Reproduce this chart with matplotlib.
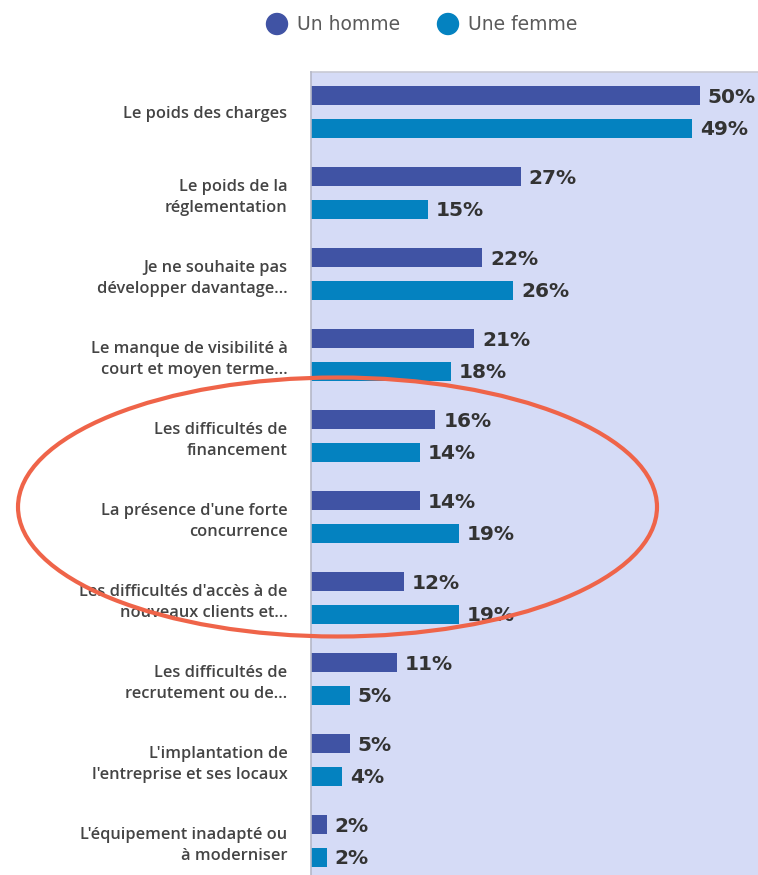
import matplotlib
matplotlib.use("Agg")
import matplotlib.pyplot as plt
from matplotlib.patches import Ellipse
import numpy as np

categories = [
    "Le poids des charges",
    "Le poids de la\nréglementation",
    "Je ne souhaite pas\ndévelopper davantage...",
    "Le manque de visibilité à\ncourt et moyen terme...",
    "Les difficultés de\nfinancement",
    "La présence d'une forte\nconcurrence",
    "Les difficultés d'accès à de\nnouveaux clients et...",
    "Les difficultés de\nrecrutement ou de...",
    "L'implantation de\nl'entreprise et ses locaux",
    "L'équipement inadapté ou\nà moderniser",
]
hommes = [50, 27, 22, 21, 16, 14, 12, 11, 5, 2]
femmes = [49, 15, 26, 18, 14, 19, 19, 5, 4, 2]
series_names = ["Un homme", "Une femme"]

col_h = "#4053a4"
col_f = "#0482c0"
bg = "#d5dbf6"

W, H = 758, 875
fig = plt.figure(figsize=(W / 100, H / 100), dpi=100)
ax = fig.add_axes([311 / W, 0, 1 - 311 / W, 1 - 72 / H])
ax.set_facecolor(bg)

y = np.arange(len(categories))
off = 0.198
bh = 0.235
ax.barh(y - off, hommes, height=bh, color=col_h, zorder=2)
ax.barh(y + off, femmes, height=bh, color=col_f, zorder=2)

for i in range(len(categories)):
    ax.text(hommes[i] + 1.0, y[i] - off + 0.02, f"{hommes[i]}%", va="center", ha="left",
            fontsize=14.5, fontweight="bold", color="#333333", clip_on=False)
    ax.text(femmes[i] + 1.0, y[i] + off + 0.02, f"{femmes[i]}%", va="center", ha="left",
            fontsize=14.5, fontweight="bold", color="#333333", clip_on=False)

ax.set_xlim(0, (W - 311) / 7.78)
ax.set_ylim(9.42, -0.494)
ax.set_xticks([])
ax.set_yticks(y)
ax.set_yticklabels(categories, fontsize=11.8, fontweight="semibold",
                   color="#444444", family="Open Sans", linespacing=1.42)
ax.tick_params(axis="y", length=0, pad=17)
for s in ["top", "right", "bottom"]:
    ax.spines[s].set_visible(False)
ax.spines["left"].set_color("#b5b8c8")
ax.spines["left"].set_linewidth(1.2)
ax.plot([0, 1], [1, 1], transform=ax.transAxes, color="#c8cad4", lw=1.2, clip_on=False)

# legend
fig.patches.append(Ellipse((277 / W, 1 - 24 / H), 21 / W, 21 / H, transform=fig.transFigure,
                           color=col_h))
fig.text(297 / W, 1 - 25 / H, series_names[0], va="center", ha="left", fontsize=13.5,
         color="#5a5a5a")
fig.patches.append(Ellipse((448 / W, 1 - 24 / H), 21 / W, 21 / H, transform=fig.transFigure,
                           color=col_f))
fig.text(468 / W, 1 - 25 / H, series_names[1], va="center", ha="left", fontsize=13.5,
         color="#5a5a5a")

# red highlight ellipse
fig.patches.append(Ellipse((337.5 / W, 1 - 507 / H), 639 / W, 259 / H,
                           transform=fig.transFigure, fill=False, edgecolor="#ef6449",
                           linewidth=3, zorder=10))

fig.savefig("out.png", dpi=100)
